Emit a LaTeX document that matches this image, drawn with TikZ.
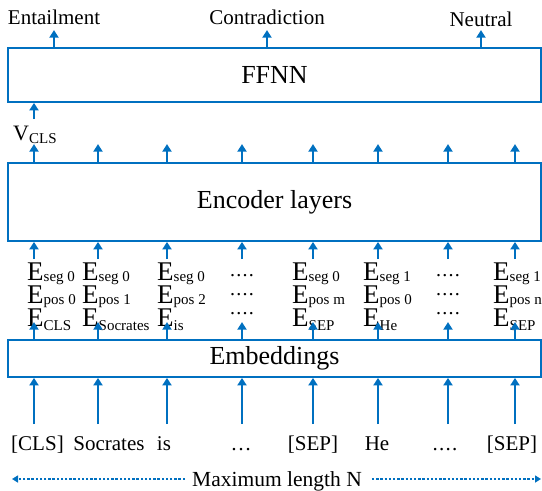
\documentclass[tikz,border=0pt]{standalone}
\usepackage{fontspec}
\setmainfont{Liberation Serif}
\usetikzlibrary{arrows.meta}
\definecolor{arrblue}{RGB}{0,112,192}

% embedding symbol with a lowered index, e.g. E_{seg 0}
\newcommand{\Eidx}[2]{E\raisebox{#1}{\fontsize{15}{15}\selectfont #2}}
% row of four close dots
\newcommand{\fourdots}{.\kern1.2pt.\kern1.2pt.\kern1.2pt.}

\tikzset{
  box/.style={draw=arrblue, line width=1.8pt, minimum width=533pt, inner sep=0pt,
              font=\fontsize{26}{26}\selectfont},
  arr/.style={draw=arrblue, line width=2.6pt, -{Triangle[length=7.5pt,width=9pt]}},
  dotarr/.style={draw=arrblue, line width=1.7pt, dash pattern=on 2.4pt off 1.8pt,
                 -{Triangle[length=6pt,width=7pt]}},
  lbl/.style={font=\fontsize{21}{21}\selectfont, inner sep=0pt},
  emb/.style={font=\fontsize{27}{20}\selectfont, align=left, inner sep=0pt, anchor=north west},
  dots/.style={font=\fontsize{20}{20}\selectfont, inner sep=0pt, anchor=base},
}

\begin{document}
\begin{tikzpicture}[x=1pt, y=-1pt]
\useasboundingbox (0,0) rectangle (542,491);

% token columns and horizontal levels
\foreach \i/\x in {1/34,2/98,3/167,4/242,5/313,6/378,7/448,8/515}
  \coordinate (col\i) at (\x,0);
\coordinate (rowV) at (0,119);
\coordinate (rowE) at (0,259);
\coordinate (rowTok) at (0,424);

% main blocks
\node[box, minimum height=54pt] (ffnn) at (274.5,75) {FFNN};
\node[box, minimum height=78pt] (enc) at (274.5,202) {Encoder layers};
\node[box, minimum height=37pt] (embd) at (274.5,358.5) {Embeddings};

% class labels
\node[lbl, anchor=base] (ent) at (54,24) {Entailment};
\node[lbl, anchor=base] (con) at (267,24) {Contradiction};
\node[lbl, anchor=base] (neu) at (481,26) {Neutral};
\foreach \n in {ent,con,neu}
  \draw[arr] (ffnn.north -| \n) -- ++(0,-17);

% CLS vector into the classifier
\node[lbl, anchor=base west, font=\fontsize{22}{22}\selectfont] (vcls) at (13,140)
  {V\raisebox{-3pt}{\fontsize{15}{15}\selectfont CLS}};
\draw[arr] (col1 |- rowV) -- (ffnn.south -| col1);

% encoder outputs
\foreach \i in {1,...,8}
  \draw[arr] (enc.north -| col\i) -- ++(0,-18);

% input embeddings per token
\node[emb] (e1) at (27,263) {\Eidx{-1pt}{seg 0}\\ \Eidx{-1pt}{pos 0}\\ \Eidx{-3.5pt}{CLS}};
\node[emb] (e2) at (82,263) {\Eidx{-1pt}{seg 0}\\ \Eidx{-1pt}{pos 1}\\ \Eidx{-3.5pt}{Socrates}};
\node[emb] (e3) at (157,263) {\Eidx{-1pt}{seg 0}\\ \Eidx{-1pt}{pos 2}\\ \Eidx{-3.5pt}{is}};
\node[emb] (e5) at (292,263) {\Eidx{-1pt}{seg 0}\\ \Eidx{-1pt}{pos m}\\ \Eidx{-3.5pt}{SEP}};
\node[emb] (e6) at (363,263) {\Eidx{-1pt}{seg 1}\\ \Eidx{-1pt}{pos 0}\\ \Eidx{-3.5pt}{He}};
\node[emb] (e8) at (493,263) {\Eidx{-1pt}{seg 1}\\ \Eidx{-1pt}{pos n}\\ \Eidx{-3.5pt}{SEP}};
\foreach \c in {4,7}
  \foreach \r/\y in {a/276,b/295,c/314}
    \node[dots] (d\c\r) at (col\c |- 0,\y) {\fourdots};

\foreach \i in {1,...,8} {
  \draw[arr] (col\i |- rowE) -- (enc.south -| col\i);
  \draw[arr] (embd.north -| col\i) -- ++(0,-17);
}

% input tokens
\foreach \i/\x/\t in {1/37.5/{[CLS]},2/109/{Socrates},3/164/{is},4/241/{\dots},
                      5/313/{[SEP]},6/377/{He},7/445/{\fourdots},8/512/{[SEP]}}
  \node[lbl, anchor=base] (tok\i) at (\x,450) {\t};
\foreach \i in {1,...,8}
  \draw[arr] (col\i |- rowTok) -- (embd.south -| col\i);

% sequence length
\node[lbl, anchor=base, font=\fontsize{21.5}{21.5}\selectfont] (maxlen) at (277,486) {Maximum length N};
\coordinate (lenL) at (12,479);
\coordinate (lenR) at (541,479);
\draw[dotarr] (maxlen.west |- lenL) ++(-7,0) -- (lenL);
\draw[dotarr] (maxlen.east |- lenR) ++(10,0) -- (lenR);
\end{tikzpicture}
\end{document}
